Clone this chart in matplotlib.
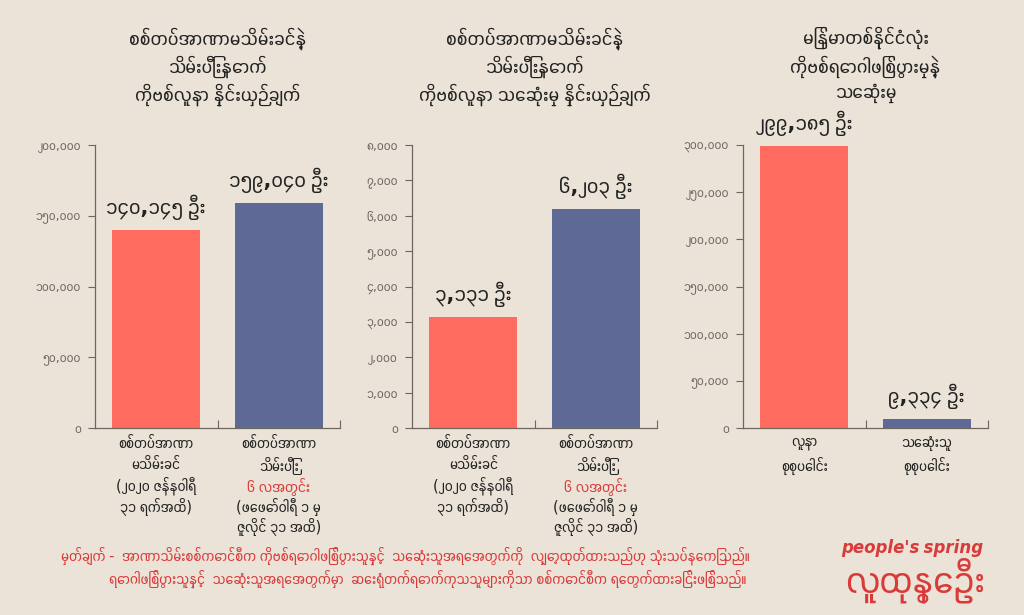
"""Myanmar COVID chart: confirmed cases and deaths before/after the coup."""

import matplotlib
matplotlib.use("Agg")
import matplotlib.pyplot as plt
from matplotlib import font_manager
from matplotlib.ft2font import FT2Font


# --- data ---------------------------------------------------------------
titles = [
    "စစ်တပ်အာဏာမသိမ်းခင်နဲ့\nသိမ်းပြီးနောက်\nကိုဗစ်လူနာ နှိုင်းယှဉ်ချက်",
    "စစ်တပ်အာဏာမသိမ်းခင်နဲ့\nသိမ်းပြီးနောက်\nကိုဗစ်လူနာ သေဆုံးမှု နှိုင်းယှဉ်ချက်",
    "မြန်မာတစ်နိုင်ငံလုံး\nကိုဗစ်ရောဂါဖြစ်ပွားမှုနဲ့\nသေဆုံးမှု",
]
cases_values = [140145, 159040]
deaths_values = [3131, 6203]
totals_values = [299185, 9334]
value_labels = [
    ["၁၄၀,၁၄၅ ဦး", "၁၅၉,၀၄၀ ဦး"],
    ["၃,၁၃၁ ဦး", "၆,၂၀၃ ဦး"],
    ["၂၉၉,၁၈၅ ဦး", "၉,၃၃၄ ဦး"],
]
y_ticks = [
    [0, 50000, 100000, 150000, 200000],
    [0, 1000, 2000, 3000, 4000, 5000, 6000, 7000, 8000],
    [0, 50000, 100000, 150000, 200000, 250000, 300000],
]
before_label = ["စစ်တပ်အာဏာ", "မသိမ်းခင်", "(၂၀၂၀ ဇန်နဝါရီ", "၃၁ ရက်အထိ)"]
after_label = ["စစ်တပ်အာဏာ", "သိမ်းပြီး", "၆ လအတွင်း", "(ဖေဖော်ဝါရီ ၁ မှ", "ဇူလိုင် ၃၁ အထိ)"]
totals_labels = [["လူနာ", "စုစုပေါင်း"], ["သေဆုံးသူ", "စုစုပေါင်း"]]
note_lines = [
    "မှတ်ချက် -  အာဏာသိမ်းစစ်ကောင်စီက ကိုဗစ်ရောဂါဖြစ်ပွားသူနှင့်  သေဆုံးသူအရေအတွက်ကို  လျှော့ထုတ်ထားသည်ဟု သုံးသပ်နေကြသည်။",
    "ရောဂါဖြစ်ပွားသူနှင့်  သေဆုံးသူအရေအတွက်မှာ  ဆေးရုံတက်ရောက်ကုသသူများကိုသာ စစ်ကောင်စီက ရေတွက်ထားခြင်းဖြစ်သည်။",
]

BG = "#ebe3d7"
RED = "#ff6b5f"
BLUE = "#5e6a95"
TEXT = "#222222"
GREY = "#6e6760"
NOTE_RED = "#d93a3a"


def myanmar_font():
    # installed fonts that really carry Myanmar glyphs, best guess first
    found = []
    for f in font_manager.fontManager.ttflist:
        try:
            if 0x1000 in FT2Font(f.fname).get_charmap():
                found.append(f.name)
        except Exception:
            continue
    if not found:
        return None

    def rank(name):
        n = name.lower()
        if "myanmar" in n or "padauk" in n or "pyidaungsu" in n:
            return 0
        if "mono" in n or "code" in n:
            return 2
        return 1

    return sorted(set(found), key=rank)[0]


mm = myanmar_font()
plt.rcParams["font.family"] = ([mm] if mm else []) + ["DejaVu Sans"]

my_digits = str.maketrans("0123456789", "၀၁၂၃၄၅၆၇၈၉")


def mm_fmt(v, _pos=None):
    return f"{int(v):,}".translate(my_digits)


fig = plt.figure(figsize=(10.24, 6.15), dpi=100, facecolor=BG)

W, H = 1024, 615
panels = [
    (95, cases_values, y_ticks[0]),
    (412, deaths_values, y_ticks[1]),
    (743, totals_values, y_ticks[2]),
]
axes = []
for i, (left, vals, ticks) in enumerate(panels):
    ax = fig.add_axes([left / W, (H - 428) / H, 245 / W, 283 / H])
    ax.set_facecolor(BG)
    ax.bar([0, 1], vals, width=0.72, color=[RED, BLUE])
    ax.set_xlim(-0.5, 1.5)
    ax.set_ylim(0, ticks[-1])
    ax.set_yticks(ticks)
    ax.yaxis.set_major_formatter(mm_fmt)
    ax.set_xticks([0.5, 1.5])
    ax.set_xticklabels([])
    ax.tick_params(axis="x", direction="in", length=6, color=GREY)
    ax.tick_params(axis="y", direction="out", length=5, color=GREY,
                   labelsize=9, labelcolor=GREY, pad=5)
    for s in ("top", "right"):
        ax.spines[s].set_visible(False)
    for s in ("left", "bottom"):
        ax.spines[s].set_color(GREY)
        ax.spines[s].set_linewidth(0.9)
    ymax = ticks[-1]
    for x, v, lab in zip([0, 1], vals, value_labels[i]):
        ax.text(x, v + ymax * 0.035, lab, ha="center", va="bottom",
                fontsize=15, fontweight="bold", color=TEXT)
    ax.text(0.5, 1.0 + 118 / 283, titles[i], transform=ax.transAxes,
            ha="center", va="top", fontsize=14, color=TEXT, linespacing=1.32)
    axes.append(ax)


def category_label(ax, x, lines, red_idx=None):
    for k, line in enumerate(lines):
        ax.text(x, -0.03 - k * 0.073, line, transform=ax.get_xaxis_transform(),
                ha="center", va="top", fontsize=10.5,
                color=NOTE_RED if k == red_idx else TEXT)


for ax in axes[:2]:
    category_label(ax, 0, before_label)
    category_label(ax, 1, after_label, red_idx=2)
category_label(axes[2], 0, totals_labels[0])
category_label(axes[2], 1, totals_labels[1])

fig.text(405 / W, 1 - 557 / H, note_lines[0], ha="center", va="center",
         fontsize=10.5, color=NOTE_RED)
fig.text(428 / W, 1 - 580 / H, note_lines[1], ha="center", va="center",
         fontsize=10.5, color=NOTE_RED)

# logo
fig.text(912 / W, 1 - 548 / H, "people's spring", ha="center", va="center",
         fontsize=12, fontweight="bold", style="italic", color=NOTE_RED)
fig.text(915 / W, 1 - 580 / H, "လူထုနွေဦး", ha="center", va="center",
         fontsize=27, fontweight="bold", style="italic", color=NOTE_RED)

fig.savefig("out.png", dpi=100, facecolor=BG)
